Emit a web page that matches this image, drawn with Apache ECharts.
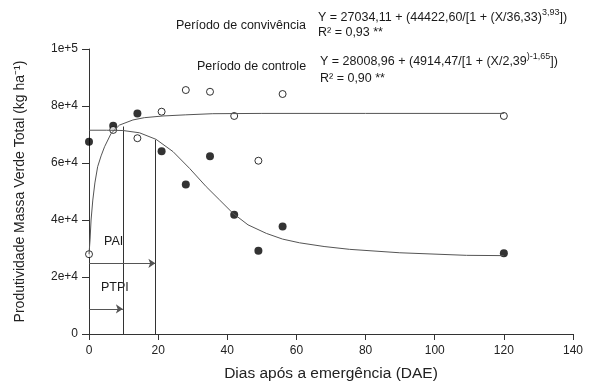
<!DOCTYPE html>
<html>
<head>
<meta charset="utf-8">
<script src="https://cdn.jsdelivr.net/npm/echarts@6/dist/echarts.min.js"></script>
<style>
  html, body { margin: 0; padding: 0; background: #fff; }
  #chart { width: 589px; height: 383px; }
</style>
</head>
<body>
<div id="chart"></div>
<script>
// dados
var dias = [0, 7, 14, 21, 28, 35, 42, 49, 56, 120];
var convivencia = [67500, 73100, 77400, 64100, 52500, 62400, 41800, 29200, 37700, 28300];
var controle = [28000, 71600, 68700, 78000, 85600, 85000, 76500, 60800, 84200, 76500];

// curvas ajustadas
var curvaConvX = [0, 5, 9.8, 14.6, 19.4, 24.3, 29.1, 33.9, 37.8, 41.6, 46, 51.3, 56, 60.9, 68, 75.4, 89.9, 109.2, 120];
var curvaConvY = [71500, 71500, 71400, 70600, 68300, 64000, 58100, 51700, 47000, 42400, 38300, 35300, 33300, 32000, 30700, 29700, 28500, 27600, 27500];
var curvaContX = [0, 0.3, 0.6, 1.1, 1.7, 2.5, 3.5, 4.5, 6.4, 8.8, 12.7, 16, 21.4, 28, 35.8, 50, 80, 120];
var curvaContY = [28000, 33000, 40000, 47000, 53000, 58700, 62500, 65700, 70400, 73300, 75100, 75900, 76500, 76900, 77300, 77400, 77400, 77400];

// PTPI e PAI
var ptpi = 9.8, pai = 19.2;
var ptpiTopo = 72800, paiTopo = 68100;
var setaPai = 24800, setaPtpi = 8800;

var xTicks = [0, 20, 40, 60, 80, 100, 120, 140];
var yTicks = [0, 20000, 40000, 60000, 80000, 100000];

function pares(xs, ys) {
    return xs.map(function (x, i) { return [x, ys[i]]; });
}

var myChart = echarts.init(document.getElementById('chart'));
var fonte = 'Liberation Sans, Arial, sans-serif';
var cor = '#1a1a1a';

function eq(txt, sup, fim) {
    return {
        text: '{a|' + txt + '}{s|' + sup + '}{a|' + fim + '}',
        verticalAlign: 'middle', fontFamily: fonte, fill: cor,
        rich: {a: {fontSize: 12.5, lineHeight: 19, fontFamily: fonte, fill: cor},
               s: {fontSize: 9, lineHeight: 9, verticalAlign: 'top', fontFamily: fonte, fill: cor}}
    };
}
function rotulo(txt) {
    return {text: txt, fontSize: 12.5, fontFamily: fonte, fill: cor, verticalAlign: 'middle'};
}

option = {
    animation: false,
    backgroundColor: '#fff',
    grid: {left: 89, right: 16, top: 49, bottom: 49, containLabel: false, outerBoundsMode: 'none'},
    xAxis: {
        type: 'value',
        min: xTicks[0],
        max: xTicks[xTicks.length - 1],
        interval: 20,
        splitLine: {show: false},
        axisLine: {onZero: false, lineStyle: {color: '#333', width: 1}},
        axisTick: {show: true, length: 6, lineStyle: {color: '#333'}},
        axisLabel: {color: '#222', fontSize: 12, fontFamily: fonte, margin: 11},
        name: 'Dias após a emergência (DAE)',
        nameLocation: 'middle',
        nameGap: 32,
        nameTextStyle: {color: '#222', fontSize: 15.5, fontFamily: fonte}
    },
    yAxis: {
        type: 'value',
        min: yTicks[0],
        max: yTicks[yTicks.length - 1],
        interval: 20000,
        splitLine: {show: false},
        axisLine: {show: true, onZero: false, lineStyle: {color: '#333', width: 1}},
        axisTick: {show: true, length: 7, lineStyle: {color: '#333'}},
        axisLabel: {
            color: '#222', fontSize: 12, fontFamily: fonte, margin: 11,
            formatter: function (v) {
                if (v === 0) return '0';
                var e = Math.floor(Math.log10(v));
                return Math.round(v / Math.pow(10, e)) + 'e+' + e;
            }
        },
        name: 'Produtividade Massa Verde Total (kg ha⁻¹)',
        nameLocation: 'middle',
        nameGap: 62,
        nameTextStyle: {color: '#222', fontSize: 14, fontFamily: fonte}
    },
    series: [
        {
            name: 'curva convivência',
            type: 'line',
            data: pares(curvaConvX, curvaConvY),
            showSymbol: false,
            lineStyle: {color: '#555', width: 1}
        },
        {
            name: 'curva controle',
            type: 'line',
            data: pares(curvaContX, curvaContY),
            showSymbol: false,
            lineStyle: {color: '#555', width: 1}
        },
        {
            name: 'linhas',
            type: 'lines',
            coordinateSystem: 'cartesian2d',
            symbol: ['none', 'none'],
            lineStyle: {color: '#333', width: 1, opacity: 1},
            data: [
                {coords: [[ptpi, 0], [ptpi, ptpiTopo]]},
                {coords: [[pai, 0], [pai, paiTopo]]}
            ]
        },
        {
            name: 'setas',
            type: 'lines',
            coordinateSystem: 'cartesian2d',
            symbol: ['none', 'arrow'],
            symbolSize: 7,
            lineStyle: {color: '#555', width: 1, opacity: 1},
            data: [
                {coords: [[0, setaPai], [pai, setaPai]]},
                {coords: [[0, setaPtpi], [ptpi, setaPtpi]]}
            ]
        },
        {
            name: 'Período de convivência',
            type: 'scatter',
            data: pares(dias, convivencia),
            symbolSize: 8,
            itemStyle: {color: '#000'}
        },
        {
            name: 'Período de controle',
            type: 'scatter',
            data: pares(dias, controle),
            symbolSize: 7,
            itemStyle: {color: '#fff', borderColor: '#000', borderWidth: 1}
        }
    ],
    graphic: [
        {type: 'text', x: 176, y: 26, style: rotulo('Período de convivência')},
        {type: 'text', x: 318, y: 18, style: eq('Y = 27034,11 + (44422,60/[1 + (X/36,33)', '3,93', '])')},
        {type: 'text', x: 318, y: 33, style: rotulo('R² = 0,93 **')},
        {type: 'text', x: 197, y: 67, style: rotulo('Período de controle')},
        {type: 'text', x: 320, y: 62, style: eq('Y = 28008,96 + (4914,47/[1 + (X/2,39', ')-1,65', '])')},
        {type: 'text', x: 320, y: 79, style: rotulo('R² = 0,90 **')},
        {type: 'text', x: 104, y: 242, style: rotulo('PAI')},
        {type: 'text', x: 101, y: 288, style: rotulo('PTPI')}
    ]
};
myChart.setOption(option);
</script>
</body>
</html>
